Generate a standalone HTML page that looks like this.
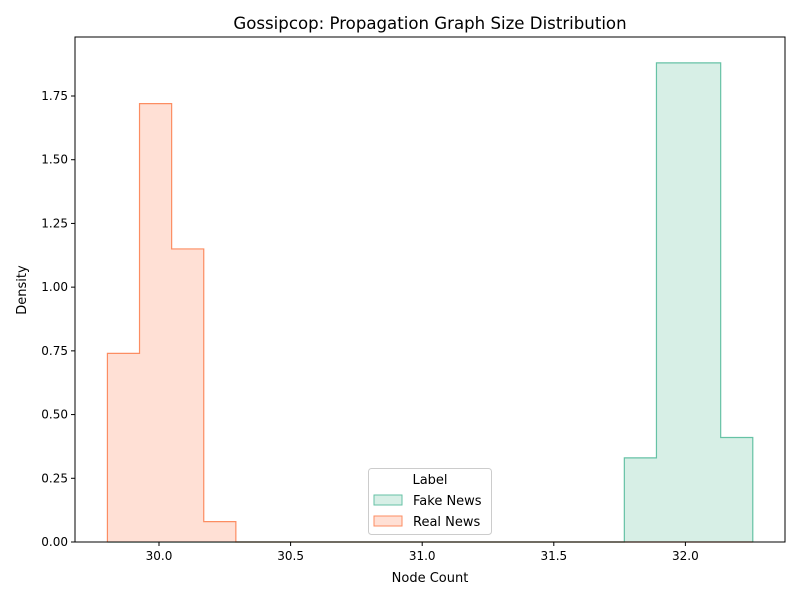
<!DOCTYPE html>
<html><head><meta charset="utf-8"><style>
body{margin:0;background:#fff}
svg text{font-family:"DejaVu Sans","Liberation Sans",sans-serif;fill:#000}
</style></head><body>
<svg id="c" width="800" height="600"></svg>
<script>
const xTicks=[30.0,30.5,31.0,31.5,32.0];
const yTicks=[0,0.25,0.5,0.75,1.0,1.25,1.5,1.75];
const binEdges=[29.804,29.926,30.048,30.170,30.292,31.768,31.89,32.012,32.134,32.256];
const realValues=[0.74,1.72,1.15,0.08,0,0,0,0,0];
const fakeValues=[0,0,0,0,0,0.33,1.88,1.88,0.41];
const L=75,R=785,T=37,B=542;
const X=v=>159+(v-30)*263.2;
const Y=v=>B-v*(446/1.75);
const svg=document.getElementById('c');
const NS='http://www.w3.org/2000/svg';
function el(t,a,p){const e=document.createElementNS(NS,t);for(const k in a)e.setAttribute(k,a[k]);(p||svg).appendChild(e);return e;}
function hist(vals,fill,stroke,name){
  let first=vals.findIndex(v=>v>0),last=vals.length-1-[...vals].reverse().findIndex(v=>v>0);
  if(name==='real-news')last=vals.length-1;
  if(name==='fake-news')first=0;
  let d='M'+X(binEdges[first])+','+Y(0);
  for(let i=first;i<=last;i++){d+=' L'+X(binEdges[i])+','+Y(vals[i])+' L'+X(binEdges[i+1])+','+Y(vals[i]);}
  d+=' L'+X(binEdges[last+1])+','+Y(0);
  const p=el('path',{d:d+' Z',fill:fill,stroke:'none'});
  
  
  const s=el('path',{d:d,fill:'none',stroke:stroke,'stroke-width':1.2});
  
  
}
hist(fakeValues,'#d7efe6','#66c2a5','fake-news');
hist(realValues,'#ffe0d5','#fc8d62','real-news');
const ax=el('rect',{x:L,y:T,width:R-L,height:B-T,fill:'none',stroke:'#000','stroke-width':1});

xTicks.forEach(v=>{el('line',{x1:X(v),x2:X(v),y1:B,y2:B+4,stroke:'#000'});
  const t=el('text',{x:X(v),y:B+18,'font-size':12,'text-anchor':'middle'});t.textContent=v.toFixed(1);
  });
yTicks.forEach(v=>{el('line',{x1:L-4,x2:L,y1:Y(v),y2:Y(v),stroke:'#000'});
  const t=el('text',{x:L-7,y:Y(v)+4,'font-size':12,'text-anchor':'end'});t.textContent=v.toFixed(2);
  });
</script>
<svg width="800" height="600" style="position:absolute;left:0;top:0">
<text x="430" y="29" font-size="16.6" text-anchor="middle">Gossipcop: Propagation Graph Size Distribution</text>
<text x="430" y="582" font-size="13" text-anchor="middle">Node Count</text>
<text x="26" y="290" font-size="13" text-anchor="middle" transform="rotate(-90 26 290)">Density</text>
<g>
<rect x="368.5" y="468.5" width="123" height="66" rx="3" fill="#fff" fill-opacity="0.8" stroke="#ccc"/>
<text x="430" y="484" font-size="13" text-anchor="middle">Label</text>
<rect x="374" y="495" width="28" height="10" fill="#d7efe6" stroke="#66c2a5"/>
<text x="413" y="505" font-size="13">Fake News</text>
<rect x="374" y="516" width="28" height="10" fill="#ffe0d5" stroke="#fc8d62"/>
<text x="413" y="526" font-size="13">Real News</text>
</g>
</svg>
</body></html>
